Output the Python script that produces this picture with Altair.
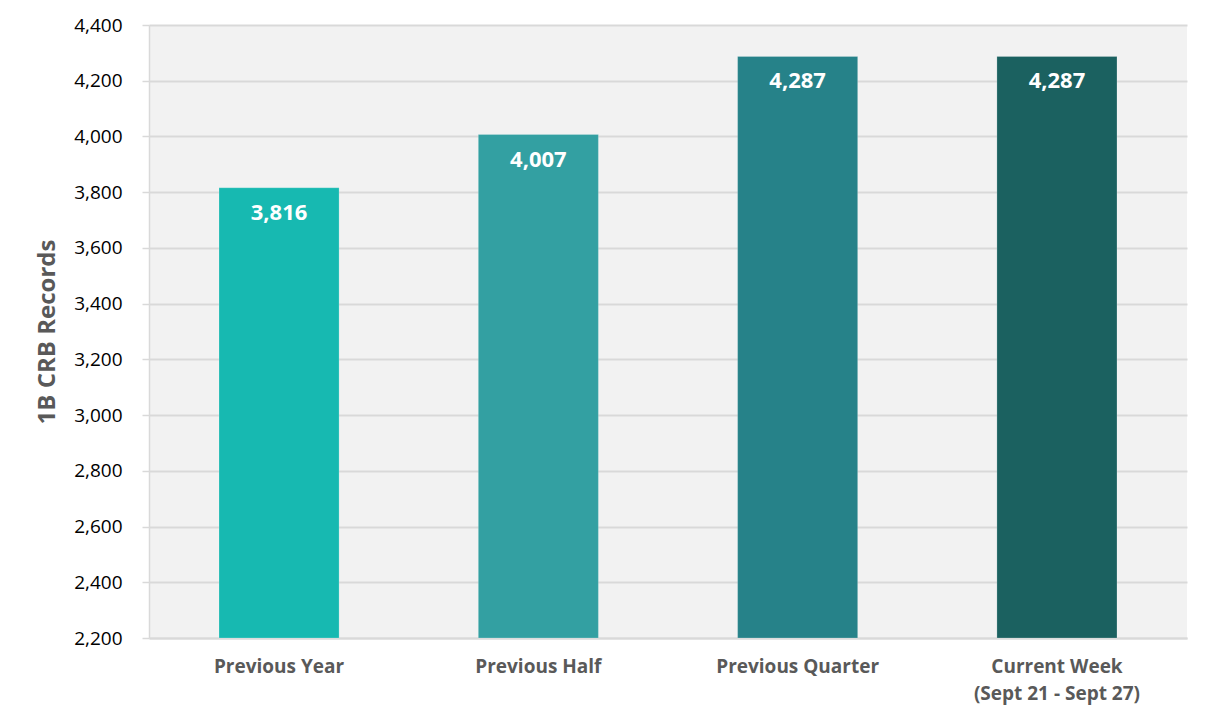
import altair as alt
import pandas as pd

categories = ["Previous Year", "Previous Half", "Previous Quarter", "Current Week|(Sept 21 - Sept 27)"]
values = [3816, 4007, 4287, 4287]
colors = ["#17b9b1", "#33a0a2", "#268289", "#1b6160"]

df = pd.DataFrame({"cat": categories, "val": values, "base": [2200] * len(values)})

x = alt.X("cat:N", sort=categories, title=None,
          scale=alt.Scale(paddingInner=0.537, paddingOuter=0.27),
          axis=alt.Axis(labelAngle=0, labelFont="Open Sans", labelFontSize=19, labelFontWeight="bold",
                        labelColor="#595959", labelPadding=19, labelLineHeight=27,
                        labelExpr="split(datum.label, '|')", ticks=False,
                        domainColor="#d9d9d9", domainWidth=2, grid=False))

y = alt.Y("val:Q", title="1B CRB Records",
          scale=alt.Scale(domain=[2200, 4400], zero=False, nice=False),
          axis=alt.Axis(values=list(range(2200, 4401, 200)), format=",d", labelFont="Open Sans",
                        labelFontSize=19, labelColor="#000000", labelPadding=20,
                        tickColor="#d9d9d9", tickSize=7, tickWidth=1.5,
                        gridColor="#d9d9d9", gridWidth=2, domainColor="#d9d9d9", domainWidth=1.5,
                        titleFont="Open Sans", titleFontSize=24, titleFontWeight="bold",
                        titleColor="#595959", titlePadding=14))

bars = alt.Chart(df).mark_bar(stroke="#ffffff", strokeWidth=0.5, strokeOpacity=0.4).encode(
    x=x, y=y, y2="base:Q",
    color=alt.Color("cat:N", sort=categories, scale=alt.Scale(domain=categories, range=colors), legend=None),
)

labels = alt.Chart(df).mark_text(font="Open Sans", fontSize=22, fontWeight="bold", color="white",
                                 baseline="middle", dy=25).encode(
    x=alt.X("cat:N", sort=categories), y="val:Q", text=alt.Text("val:Q", format=","))

chart = alt.layer(bars, labels).properties(
    width=1038, height=613,
    autosize=alt.AutoSizeParams(type="none"),
    padding={"left": 141, "top": 17, "right": 10, "bottom": 80},
    background="white",
).configure_view(fill="#f2f2f2", stroke=None)

chart.save("out.html", embed_options={"renderer": "svg", "actions": False})
